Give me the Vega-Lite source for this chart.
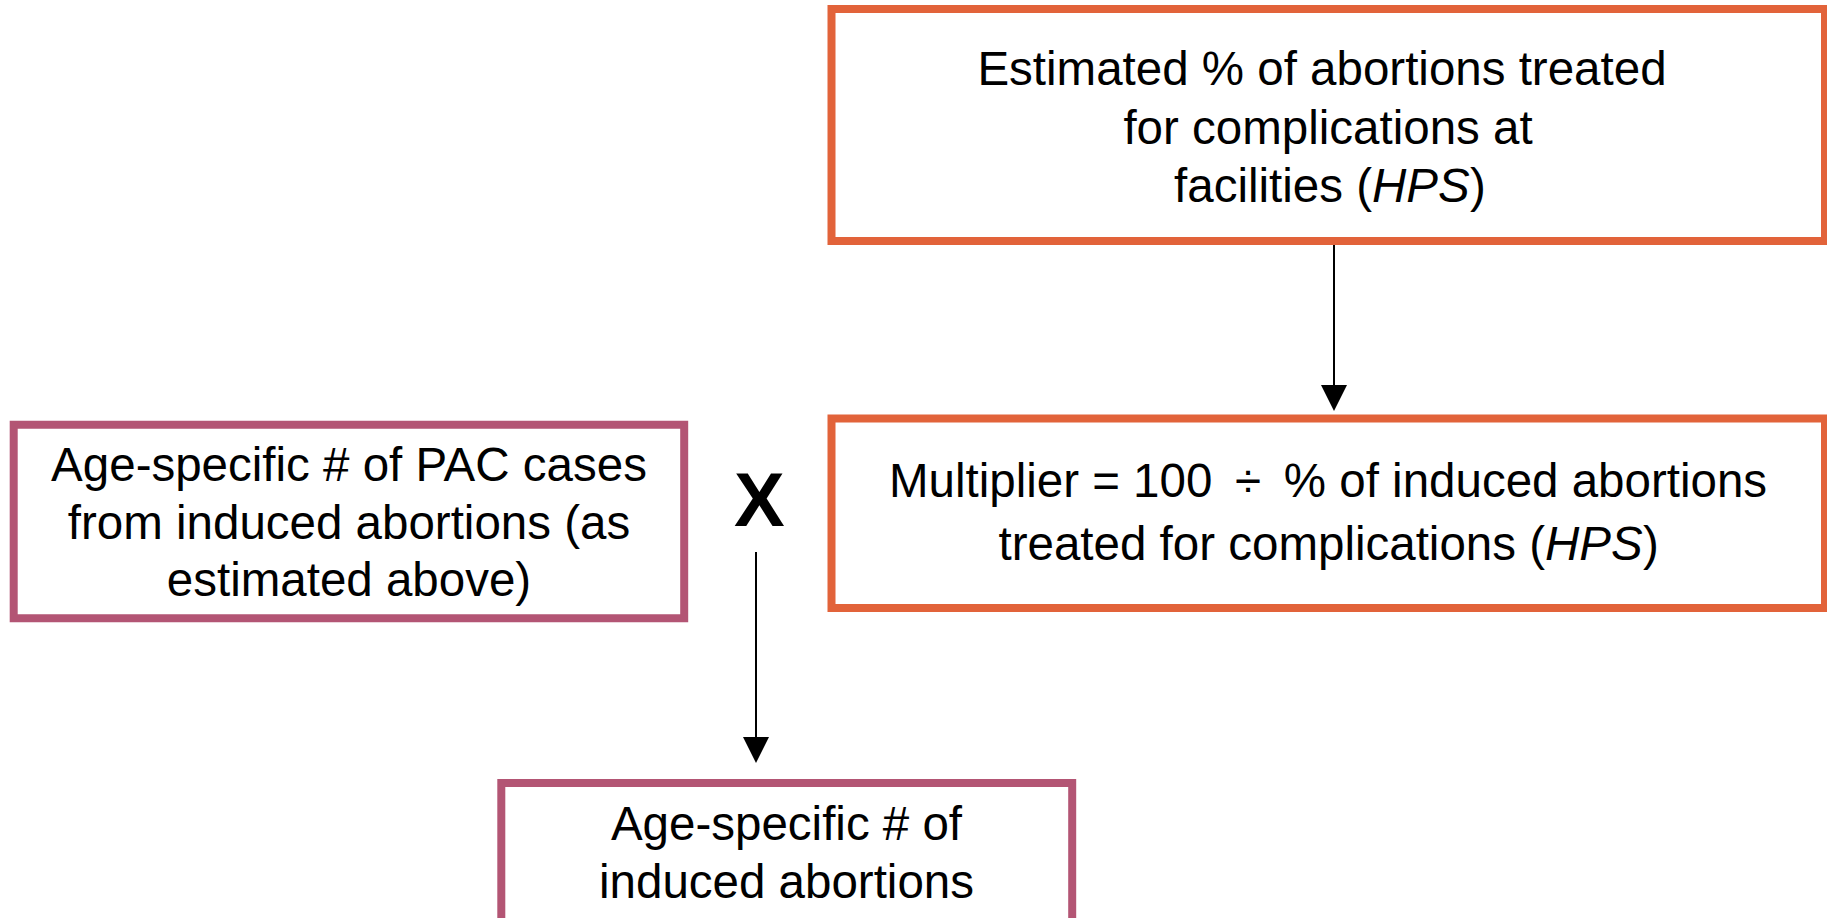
{
  "$schema": "https://vega.github.io/schema/vega-lite/v6.json",
  "width": 1827,
  "height": 918,
  "autosize": {"type": "fit", "contains": "padding"},
  "padding": 0,
  "background": "white",
  "config": {"view": {"stroke": null}},
  "datasets": {
    "boxes": [
      {"box": "Estimated % treated", "source": "HPS", "x": 831.5, "x2": 1825, "y": 9, "y2": 241},
      {"box": "Multiplier", "source": "HPS", "x": 831.5, "x2": 1825, "y": 418.5, "y2": 608},
      {"box": "PAC cases", "source": "PAC", "x": 13.7, "x2": 684.2, "y": 424.8, "y2": 618.2},
      {"box": "Induced abortions", "source": "PAC", "x": 501.3, "x2": 1072.2, "y": 783, "y2": 960}
    ],
    "links": [
      {"from": "Estimated % treated", "to": "Multiplier", "x": 1334, "y": 245, "y2": 388, "tipY": 398},
      {"from": "PAC cases x Multiplier", "to": "Induced abortions", "x": 756, "y": 552, "y2": 740, "tipY": 750}
    ],
    "labels": [
      {"label": "Estimated % of abortions treated", "x": 1322, "y": 84.5, "piece": "middle"},
      {"label": "for complications at", "x": 1328, "y": 143.5, "piece": "middle"},
      {"label": "facilities (", "x": 1372, "y": 202, "piece": "before"},
      {"label": "HPS", "x": 1372, "y": 202, "piece": "italic"},
      {"label": ")", "x": 1470, "y": 202, "piece": "after"},
      {"label": "Multiplier = 100 \u2009÷\u2009 % of induced abortions", "x": 1328, "y": 496.5, "piece": "middle"},
      {"label": "treated for complications (", "x": 1545, "y": 560, "piece": "before"},
      {"label": "HPS", "x": 1545, "y": 560, "piece": "italic"},
      {"label": ")", "x": 1643, "y": 560, "piece": "after"},
      {"label": "Age-specific # of PAC cases", "x": 349, "y": 481, "piece": "middle"},
      {"label": "from induced abortions (as", "x": 349, "y": 538.5, "piece": "middle"},
      {"label": "estimated above)", "x": 349, "y": 596, "piece": "middle"},
      {"label": "Age-specific # of", "x": 786.5, "y": 840, "piece": "middle"},
      {"label": "induced abortions", "x": 786.5, "y": 897.7, "piece": "middle"},
      {"label": "X", "x": 759.3, "y": 526, "piece": "operator"}
    ]
  },
  "layer": [
    {
      "data": {"name": "boxes"},
      "mark": {"type": "rect", "fill": "white", "strokeWidth": 8, "clip": true},
      "encoding": {
        "x": {"field": "x", "type": "quantitative", "scale": {"domain": [0, 1827], "nice": false, "zero": false}, "axis": null},
        "x2": {"field": "x2"},
        "y": {"field": "y", "type": "quantitative", "scale": {"domain": [0, 918], "nice": false, "zero": false, "reverse": true}, "axis": null},
        "y2": {"field": "y2"},
        "stroke": {"field": "source", "type": "nominal", "scale": {"domain": ["HPS", "PAC"], "range": ["#E2633A", "#B35574"]}, "legend": null}
      }
    },
    {
      "data": {"name": "links"},
      "mark": {"type": "rule", "color": "black", "strokeWidth": 2},
      "encoding": {
        "x": {"field": "x", "type": "quantitative"},
        "y": {"field": "y", "type": "quantitative"},
        "y2": {"field": "y2"}
      }
    },
    {
      "data": {"name": "links"},
      "mark": {"type": "point", "shape": "M-1,-1L1,-1L0,1Z", "filled": true, "color": "black", "opacity": 1, "size": 676, "strokeWidth": 0},
      "encoding": {
        "x": {"field": "x", "type": "quantitative"},
        "y": {"field": "tipY", "type": "quantitative"}
      }
    },
    {
      "data": {"name": "labels"},
      "transform": [{"filter": "datum.piece === 'middle'"}],
      "mark": {"type": "text", "align": "center", "baseline": "alphabetic", "font": "Liberation Sans", "fontSize": 47.5, "color": "black"},
      "encoding": {
        "x": {"field": "x", "type": "quantitative"},
        "y": {"field": "y", "type": "quantitative"},
        "text": {"field": "label", "type": "nominal"}
      }
    },
    {
      "data": {"name": "labels"},
      "transform": [{"filter": "datum.piece === 'before'"}],
      "mark": {"type": "text", "align": "right", "baseline": "alphabetic", "font": "Liberation Sans", "fontSize": 47.5, "color": "black"},
      "encoding": {
        "x": {"field": "x", "type": "quantitative"},
        "y": {"field": "y", "type": "quantitative"},
        "text": {"field": "label", "type": "nominal"}
      }
    },
    {
      "data": {"name": "labels"},
      "transform": [{"filter": "datum.piece === 'italic'"}],
      "mark": {"type": "text", "align": "left", "baseline": "alphabetic", "font": "Liberation Sans", "fontStyle": "italic", "fontSize": 47.5, "color": "black"},
      "encoding": {
        "x": {"field": "x", "type": "quantitative"},
        "y": {"field": "y", "type": "quantitative"},
        "text": {"field": "label", "type": "nominal"}
      }
    },
    {
      "data": {"name": "labels"},
      "transform": [{"filter": "datum.piece === 'after'"}],
      "mark": {"type": "text", "align": "left", "baseline": "alphabetic", "font": "Liberation Sans", "fontSize": 47.5, "color": "black"},
      "encoding": {
        "x": {"field": "x", "type": "quantitative"},
        "y": {"field": "y", "type": "quantitative"},
        "text": {"field": "label", "type": "nominal"}
      }
    },
    {
      "data": {"name": "labels"},
      "transform": [{"filter": "datum.piece === 'operator'"}],
      "mark": {"type": "text", "align": "center", "baseline": "alphabetic", "font": "Liberation Sans", "fontWeight": "bold", "fontSize": 76, "color": "black"},
      "encoding": {
        "x": {"field": "x", "type": "quantitative"},
        "y": {"field": "y", "type": "quantitative"},
        "text": {"field": "label", "type": "nominal"}
      }
    }
  ]
}
